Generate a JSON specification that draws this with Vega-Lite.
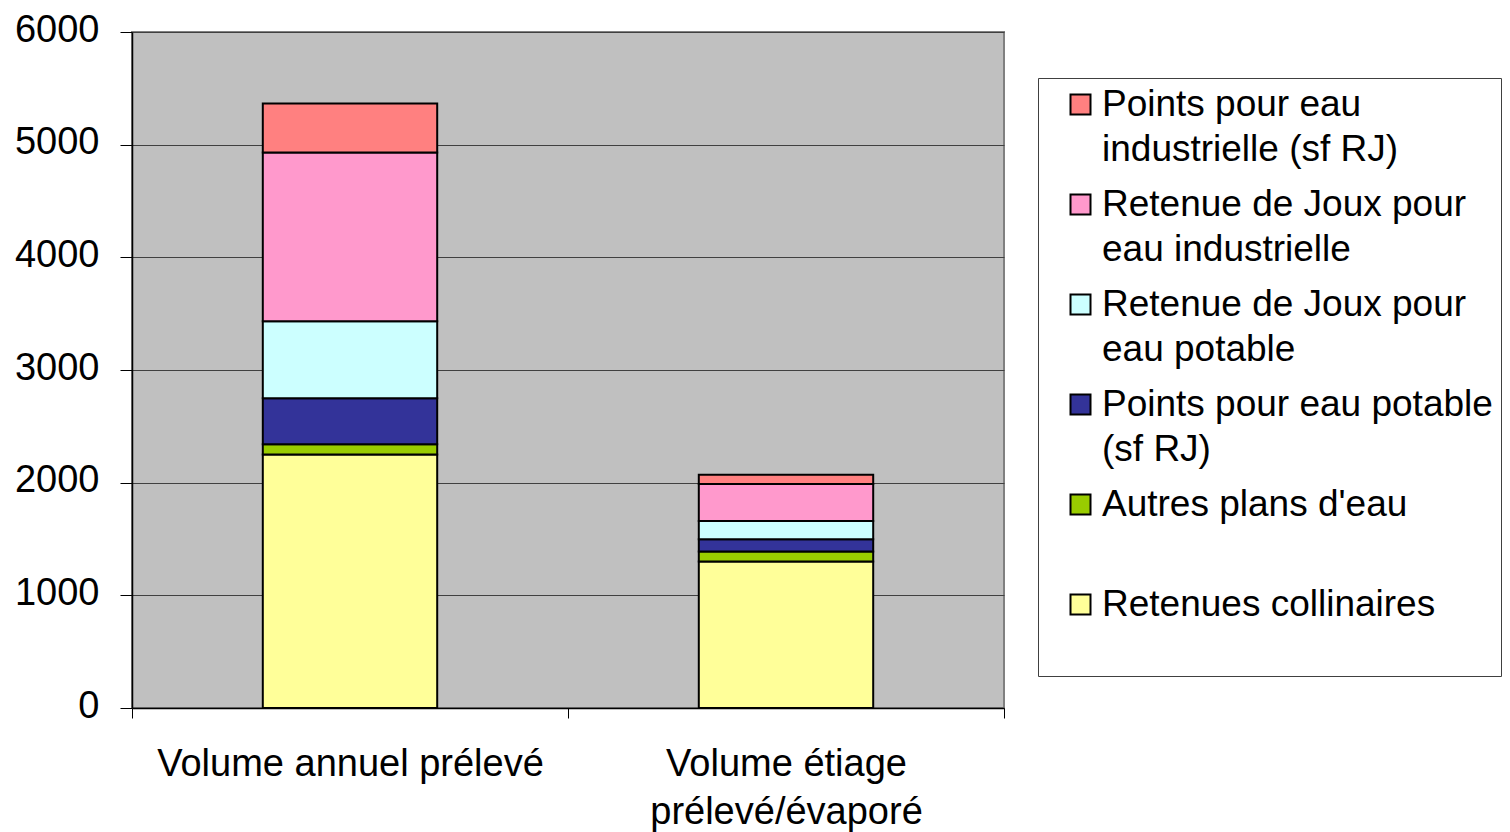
{
  "$schema": "https://vega.github.io/schema/vega-lite/v6.json",
  "width": 872,
  "height": 676,
  "padding": {"left": 132, "top": 32, "right": 506, "bottom": 124},
  "autosize": {"type": "none"},
  "background": "white",
  "config": {
    "font": "Liberation Sans",
    "view": {"fill": "#C0C0C0", "stroke": "#808080", "strokeWidth": 2},
    "style": {"guide-label": {"lineHeight": 45}}
  },
  "data": {
    "values": [
      {"volume": "Volume annuel prélevé", "source": "Retenues collinaires", "rang": 1, "valeur": 2250},
      {"volume": "Volume annuel prélevé", "source": "Autres plans d'eau", "rang": 2, "valeur": 90},
      {"volume": "Volume annuel prélevé", "source": "Points pour eau potable (sf RJ)", "rang": 3, "valeur": 410},
      {"volume": "Volume annuel prélevé", "source": "Retenue de Joux pour eau potable", "rang": 4, "valeur": 682},
      {"volume": "Volume annuel prélevé", "source": "Retenue de Joux pour eau industrielle", "rang": 5, "valeur": 1498},
      {"volume": "Volume annuel prélevé", "source": "Points pour eau industrielle (sf RJ)", "rang": 6, "valeur": 436},
      {"volume": "Volume étiage prélevé/évaporé", "source": "Retenues collinaires", "rang": 1, "valeur": 1300},
      {"volume": "Volume étiage prélevé/évaporé", "source": "Autres plans d'eau", "rang": 2, "valeur": 88},
      {"volume": "Volume étiage prélevé/évaporé", "source": "Points pour eau potable (sf RJ)", "rang": 3, "valeur": 110},
      {"volume": "Volume étiage prélevé/évaporé", "source": "Retenue de Joux pour eau potable", "rang": 4, "valeur": 162},
      {"volume": "Volume étiage prélevé/évaporé", "source": "Retenue de Joux pour eau industrielle", "rang": 5, "valeur": 328},
      {"volume": "Volume étiage prélevé/évaporé", "source": "Points pour eau industrielle (sf RJ)", "rang": 6, "valeur": 83}
    ]
  },
  "mark": {"type": "bar", "stroke": "black", "strokeWidth": 2, "width": {"band": 0.4}},
  "encoding": {
    "x": {
      "field": "volume",
      "type": "nominal",
      "sort": null,
      "scale": {"paddingInner": 0, "paddingOuter": 0},
      "axis": {
        "title": null,
        "labelAngle": 0,
        "labelFontSize": 38,
        "labelColor": "black",
        "labelPadding": 27,
        "labelBaseline": "top",
        "labelLineHeight": 48,
        "labelExpr": "datum.value == 'Volume étiage prélevé/évaporé' ? ['Volume étiage', 'prélevé/évaporé'] : datum.value",
        "tickBand": "extent",
        "tickSize": 10,
        "tickColor": "black",
        "domainColor": "black",
        "domainWidth": 1.5,
        "labelLimit": 0
      }
    },
    "y": {
      "field": "valeur",
      "type": "quantitative",
      "stack": "zero",
      "scale": {"domain": [0, 6000], "nice": false},
      "axis": {
        "title": null,
        "values": [0, 1000, 2000, 3000, 4000, 5000, 6000],
        "format": "d",
        "labelFontSize": 38,
        "labelColor": "black",
        "labelPadding": 21,
        "labelOffset": -2,
        "tickSize": 12,
        "tickColor": "black",
        "domainColor": "black",
        "domainWidth": 1.5,
        "grid": true,
        "gridColor": "#404040",
        "gridWidth": 1,
        "gridOpacity": 1
      }
    },
    "order": {"field": "rang", "type": "quantitative"},
    "color": {
      "field": "source",
      "type": "nominal",
      "scale": {
        "domain": [
          "Points pour eau industrielle (sf RJ)",
          "Retenue de Joux pour eau industrielle",
          "Retenue de Joux pour eau potable",
          "Points pour eau potable (sf RJ)",
          "Autres plans d'eau",
          "Retenues collinaires"
        ],
        "range": ["#FF8080", "#FF99CC", "#CCFFFF", "#333399", "#99CC00", "#FFFF99"]
      },
      "legend": {
        "title": null,
        "orient": "none",
        "legendX": 906,
        "legendY": 46,
        "direction": "vertical",
        "fillColor": "white",
        "strokeColor": "#404040",
        "padding": 8,
        "symbolType": "square",
        "symbolSize": 400,
        "symbolStrokeColor": "black",
        "symbolStrokeWidth": 2,
        "symbolOpacity": 1,
        "symbolOffset": 16,
        "labelFontSize": 37,
        "labelColor": "black",
        "labelOffset": 3,
        "labelLimit": 0,
        "labelBaseline": "middle",
        "gridAlign": "all",
        "rowPadding": 17,
        "labelExpr": "datum.label == 'Points pour eau industrielle (sf RJ)' ? ['Points pour eau', 'industrielle (sf RJ)'] : datum.label == 'Retenue de Joux pour eau industrielle' ? ['Retenue de Joux pour', 'eau industrielle'] : datum.label == 'Retenue de Joux pour eau potable' ? ['Retenue de Joux pour', 'eau potable'] : datum.label == 'Points pour eau potable (sf RJ)' ? ['Points pour eau potable', '(sf RJ)'] : datum.label == 'Retenues collinaires' ? ['Retenues collinaires', ''] : datum.label"
      }
    }
  }
}
